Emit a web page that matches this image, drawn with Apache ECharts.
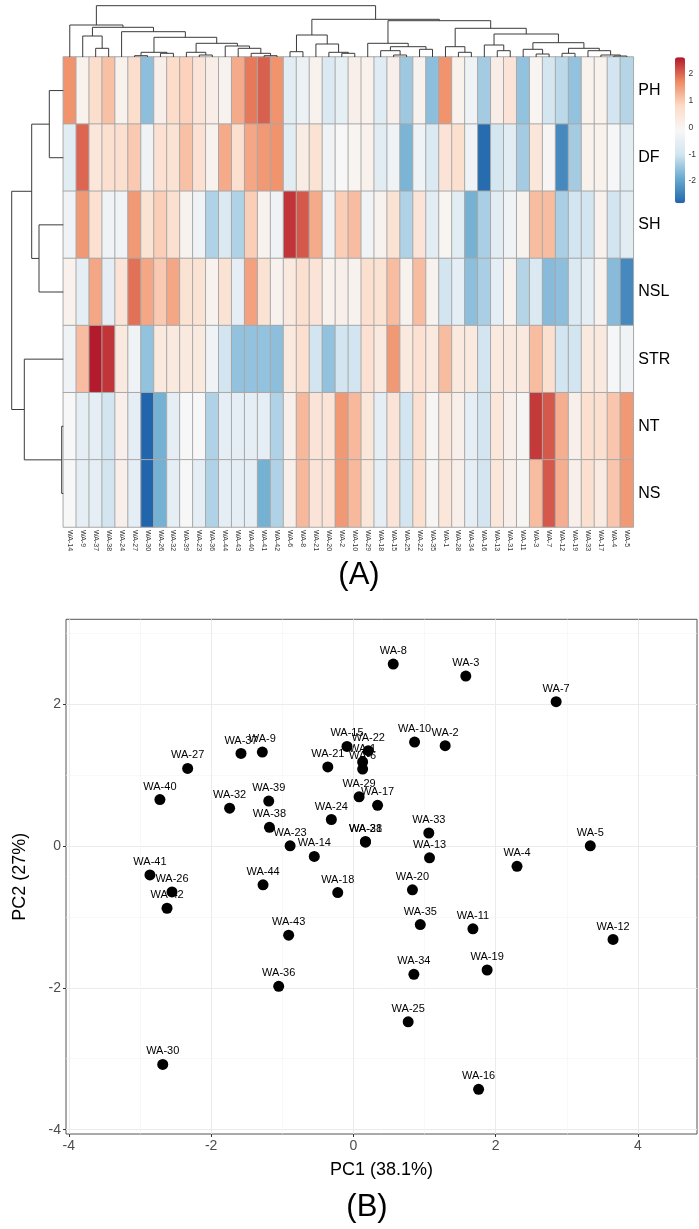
<!DOCTYPE html>
<html>
<head>
<meta charset="utf-8">
<script src="https://cdn.jsdelivr.net/npm/echarts@6/dist/echarts.min.js"></script>
<style>
html, body { margin: 0; padding: 0; background: #fff; }
#chart { width: 699px; height: 1229px; }
</style>
</head>
<body>
<div id="chart"></div>
<script>
// heatmap columns (clustered order) and rows
var colLabels = ['WA-14', 'WA-9', 'WA-37', 'WA-38', 'WA-24', 'WA-27', 'WA-30', 'WA-26', 'WA-32', 'WA-39', 'WA-23',
    'WA-36', 'WA-44', 'WA-43', 'WA-40', 'WA-41', 'WA-42', 'WA-6', 'WA-8', 'WA-21', 'WA-20', 'WA-2', 'WA-10',
    'WA-29', 'WA-18', 'WA-15', 'WA-25', 'WA-22', 'WA-35', 'WA-1', 'WA-28', 'WA-34', 'WA-16', 'WA-13', 'WA-31',
    'WA-11', 'WA-3', 'WA-7', 'WA-12', 'WA-19', 'WA-33', 'WA-17', 'WA-4', 'WA-5'];
var rowLabels = ['PH', 'DF', 'SH', 'NSL', 'STR', 'NT', 'NS'];

var PH = [1.6, 0.1, 0.7, 1.1, 0.1, 0.7, -1.6, 0.15, 0.75, 0.9, 0.5, 0.2, 0.05, 1.35, 1.85, 2.05, 1.6, -0.6, -0.4, 0.05, -0.8, -0.5,
    0.15, 0.1, -0.65, 0.15, -1.45, 0.05, -1.6, 1.6, 0.1, -0.3, -1.4, 0.2, 0.5, -1.55, 0, -0.95, -1.2, -1.55, 0.1, 0.1, -1.0, -1.25];
var DF = [-0.6, 2.0, 0.45, 0.65, 0.65, 1.0, -0.3, 0.6, 0.55, 1.1, 0.6, 0.05, 1.35, 0.65, 1.4, 1.55, 1.6, -0.6, 0.25, 0.55, -0.3, -0.1,
    0, 0.1, -0.6, -0.3, -1.75, -0.3, -0.8, 0.5, 0.65, -0.3, -2.75, -0.95, -0.6, -1.4, 0.45, -0.05, -2.35, -1.4, 0.1, 0.1, -0.15, -0.6];
var SH = [-0.3, 1.55, 0.6, -0.3, -0.3, 1.55, 0.55, 0.95, 0.65, 0.05, -0.3, -1.3, -0.8, -1.3, 0.95, 0.05, -0.3, 2.4, 2.1, 1.35, -0.3, 0.95,
    1.15, -0.3, 0.05, 0.55, -1.3, 0.5, -0.6, 0, -0.6, -1.8, -1.35, -0.6, -0.3, 0.05, 1.15, 1.15, -1.35, -1.0, -1.0, 0.05, -1.0, -0.6];
var NSL = [0.1, -0.55, 1.4, -0.55, 0.5, 1.9, 1.4, 1.0, 1.4, 0.55, 0.55, 0.05, 0.55, -0.55, 1.45, 0.55, 0.05, 0.35, 0.65, 0.5, 0.1, 0.15,
    0.05, 0.65, 0.55, 1.15, 0.05, 1.15, 0.05, -1.0, -0.55, -1.6, -1.35, -0.55, 0.05, -1.25, -0.8, -1.65, -1.6, -0.8, -0.55, 0.05, -1.65, -2.35];
var STR = [-0.3, 1.15, 2.6, 2.4, 0.35, -0.3, -1.55, 0.35, 0.35, 0.35, 0.35, -0.3, -1.0, -1.55, -1.55, -1.55, -1.6, 0.35, 0.65, -1.0, -1.55, -1.0,
    -1.0, 0.6, 0.35, 1.55, 0.35, 0.6, 0.35, 1.15, 0.35, 0.35, -1.0, 0.35, 0.35, 0.35, 1.15, 0.65, -1.0, -1.0, 0.35, 0.35, -0.15, -0.3];
var NT = [-0.1, -0.55, -0.55, -1.0, 0.15, -0.55, -2.85, -1.8, -0.55, -0.1, -0.1, -1.3, -0.55, -0.55, -0.55, -0.55, -1.3, 0.15, 1.2, 0.5, 0.5, 1.55,
    1.2, 0.45, -0.55, 0.5, -1.0, 0.65, -0.05, 0.45, 0.15, -0.55, -1.0, 0.45, 0.15, -0.05, 2.35, 2.1, 1.3, 0.15, 0.65, 0.65, 1.05, 1.55];
var NS = [-0.1, -0.55, -0.55, -1.0, 0.15, -0.55, -2.85, -1.8, -0.55, -0.1, -0.55, -1.3, -0.55, -0.55, -0.55, -1.8, -1.3, 0.15, 1.2, 0.5, 0.5, 1.55,
    1.2, 0.45, -0.55, 0.5, -1.0, 0.65, -0.05, 0.45, 0.15, -0.55, -1.0, 0.45, 0.15, -0.05, 1.15, 2.1, 1.3, 0.15, 0.65, 0.3, 1.05, 1.55];
var legendTicks = [-2, -1, 0, 1, 2];

// hclust-style merges: negative = leaf (1-based), positive = earlier merge; third = height
var colMerge = [
    [-3, -4, 8.7], [-2, 1, 21], [-6, -7, 1.3], [-8, -9, 3.7], [3, 4, 4.7], [-11, -12, 2], [-10, 6, 4.7],
    [-16, -17, 1.3], [-15, 8, 3.7], [-14, 9, 8.7], [-13, 10, 11], [7, 11, 13.7], [5, 12, 19.7], [-5, 13, 25.3],
    [2, 14, 29.7], [-1, 15, 32], [-18, -19, 5.3], [-22, -23, 3.7], [-21, 18, 4.7], [-20, 19, 13], [17, 20, 22],
    [-26, -27, 2], [-25, 22, 6.3], [-28, -29, 7.7], [23, 24, 10.3], [-24, 25, 13.7], [-31, -32, 4.7], [-30, 27, 10.3],
    [-34, -35, 6.3], [-33, 29, 12], [-37, -38, 3], [-36, 31, 7.7], [-39, -40, 3.7], [-43, -44, 1], [-42, 34, 2],
    [-41, 35, 6.3], [33, 36, 8.7], [32, 37, 14.3], [30, 38, 23], [28, 39, 28.7], [26, 40, 36.3], [21, 41, 37.7],
    [16, 42, 51.3]
];
var rowMerge = [[-1, -2, 14], [-3, -4, 24.3], [1, 2, 31.6], [-6, -7, 1.6], [-5, 4, 39], [3, 5, 51.6]];

// PCA scores
var pcaNames = ['WA-1', 'WA-2', 'WA-3', 'WA-4', 'WA-5', 'WA-6', 'WA-7', 'WA-8', 'WA-9', 'WA-10', 'WA-11',
    'WA-12', 'WA-13', 'WA-14', 'WA-15', 'WA-16', 'WA-17', 'WA-18', 'WA-19', 'WA-20', 'WA-21', 'WA-22',
    'WA-23', 'WA-24', 'WA-25', 'WA-26', 'WA-27', 'WA-28', 'WA-29', 'WA-30', 'WA-31', 'WA-32', 'WA-33',
    'WA-34', 'WA-35', 'WA-36', 'WA-37', 'WA-38', 'WA-39', 'WA-40', 'WA-41', 'WA-42', 'WA-43', 'WA-44'];
var pc1 = [0.13, 1.29, 1.58, 2.30, 3.33, 0.13, 2.85, 0.56, -1.28, 0.86, 1.68,
    3.65, 1.07, -0.55, -0.09, 1.76, 0.34, -0.22, 1.88, 0.83, -0.36, 0.21,
    -0.89, -0.31, 0.77, -2.55, -2.33, 0.17, 0.08, -2.68, 0.17, -1.74, 1.06,
    0.85, 0.94, -1.05, -1.58, -1.18, -1.19, -2.72, -2.86, -2.62, -0.91, -1.27];
var pc2 = [1.18, 1.41, 2.39, -0.29, 0.0, 1.08, 2.03, 2.56, 1.32, 1.46, -1.17,
    -1.32, -0.17, -0.15, 1.40, -3.43, 0.57, -0.66, -1.75, -0.62, 1.11, 1.34,
    0.0, 0.37, -2.48, -0.65, 1.09, 0.06, 0.69, -3.08, 0.05, 0.53, 0.18,
    -1.81, -1.11, -1.98, 1.30, 0.26, 0.63, 0.65, -0.41, -0.88, -1.26, -0.55];

var heatRows = [PH, DF, SH, NSL, STR, NT, NS];
var heatData = [];
heatRows.forEach(function (row, r) {
    row.forEach(function (v, c) {
        heatData.push([c, r, v]);
    });
});

function dendroSegments(merge) {
    var pos = [], hgt = [], out = [];
    function node(k) {
        return k < 0 ? [-k - 0.5, 0] : [pos[k - 1], hgt[k - 1]];
    }
    merge.forEach(function (m, i) {
        var a = node(m[0]), b = node(m[1]);
        pos[i] = (a[0] + b[0]) / 2;
        hgt[i] = m[2];
        out.push([a[0], a[1], b[0], b[1], m[2]]);
    });
    return out;
}

function uShape(flip) {
    return function (params, api) {
        var pa = api.value(0), ha = api.value(1), pb = api.value(2), hb = api.value(3), h = api.value(4);
        var pts = [[pa, ha], [pa, h], [pb, h], [pb, hb]].map(function (p) {
            return api.coord(flip ? [p[1], p[0]] : p);
        });
        return {
            type: 'polyline',
            shape: { points: pts },
            style: { stroke: '#3a3a3a', lineWidth: 1, fill: null }
        };
    };
}

var scatterData = pcaNames.map(function (n, i) {
    return { name: n, value: [pc1[i], pc2[i]] };
});

var font = 'Liberation Sans, Arial, sans-serif';
var hidden = { show: false };
var noLine = { show: false, onZero: false };

var chart = echarts.init(document.getElementById('chart'));
chart.setOption({
    animation: false,
    backgroundColor: '#fff',
    textStyle: { fontFamily: font },
    title: [
        { text: '(A)', left: 354, textAlign: 'center', top: 555, textStyle: { fontSize: 31, fontWeight: 'normal', color: '#000' } },
        { text: '(B)', left: 362, textAlign: 'center', top: 1187, textStyle: { fontSize: 31, fontWeight: 'normal', color: '#000' } }
    ],
    grid: [
        { left: 63.3, top: 57, width: 570, height: 470 },
        { left: 63.3, top: 5.7, width: 570, height: 51.3 },
        { left: 11.7, top: 57, width: 51.6, height: 470 },
        { left: 66, top: 619.3, width: 631, height: 514.7, show: true, borderColor: '#555', borderWidth: 1, backgroundColor: 'transparent' },
        { left: 684, top: 57.3, width: 1, height: 146 }
    ],
    xAxis: [
        {
            type: 'category', gridIndex: 0, data: colLabels, position: 'bottom',
            axisLine: noLine, axisTick: hidden, splitLine: hidden,
            axisLabel: { interval: 0, rotate: -90, fontSize: 7, color: '#333', margin: 3 }
        },
        { type: 'value', gridIndex: 1, min: 0, max: 44, show: false },
        { type: 'value', gridIndex: 2, min: 0, max: 51.6, inverse: true, show: false },
        {
            type: 'value', gridIndex: 3, min: -4.04, max: 4.83,
            name: 'PC1 (38.1%)', nameLocation: 'middle', nameGap: 27,
            nameTextStyle: { fontSize: 18, color: '#000' },
            axisLine: noLine,
            axisTick: { show: true, length: 3, lineStyle: { color: '#333' }, customValues: [-4, -2, 0, 2, 4] },
            axisLabel: { fontSize: 14, color: '#4d4d4d', margin: 5, customValues: [-4, -2, 0, 2, 4] },
            splitLine: { show: true, lineStyle: { color: '#ebebeb', width: 1 } }
        },
        {
            type: 'value', gridIndex: 3, min: -4.04, max: 4.83,
            axisLine: noLine, axisLabel: hidden,
            axisTick: { show: false, customValues: [-3, -1, 1, 3] },
            splitLine: { show: true, lineStyle: { color: '#f3f3f3', width: 0.6 } }
        },
        { type: 'value', gridIndex: 4, min: 0, max: 1, show: false }
    ],
    yAxis: [
        {
            type: 'category', gridIndex: 0, data: rowLabels, inverse: true, position: 'right',
            axisLine: noLine, axisTick: hidden, splitLine: hidden,
            axisLabel: { fontSize: 16, color: '#000', margin: 5 }
        },
        { type: 'value', gridIndex: 1, min: 0, max: 51.3, show: false },
        { type: 'value', gridIndex: 2, min: 0, max: 7, inverse: true, show: false },
        {
            type: 'value', gridIndex: 3, min: -4.06, max: 3.19,
            name: 'PC2 (27%)', nameLocation: 'middle', nameGap: 37, nameRotate: 90,
            nameTextStyle: { fontSize: 18, color: '#000' },
            axisLine: noLine,
            axisTick: { show: true, length: 3, lineStyle: { color: '#333' }, customValues: [-4, -2, 0, 2] },
            axisLabel: { fontSize: 14, color: '#4d4d4d', margin: 5, customValues: [-4, -2, 0, 2] },
            splitLine: { show: true, lineStyle: { color: '#ebebeb', width: 1 } }
        },
        {
            type: 'value', gridIndex: 3, min: -4.06, max: 3.19,
            axisLine: noLine, axisLabel: hidden,
            axisTick: { show: false, customValues: [-3, -1, 1, 3] },
            splitLine: { show: true, lineStyle: { color: '#f3f3f3', width: 0.6 } }
        },
        {
            type: 'value', gridIndex: 4, min: -2.83, max: 2.62, position: 'right',
            axisLine: noLine, axisTick: hidden, splitLine: hidden,
            axisLabel: { fontSize: 8.5, color: '#333', margin: 4, customValues: legendTicks }
        }
    ],
    visualMap: {
        type: 'continuous', seriesIndex: 0, dimension: 2,
        min: -2.83, max: 2.62, calculable: false,
        left: 675, top: 57.3, itemWidth: 10, itemHeight: 146,
        padding: 0, text: null,
        inRange: { color: ['#2166AC', '#67A9CF', '#D1E5F0', '#F7F7F7', '#FDDBC7', '#EF8A62', '#B2182B'] }
    },
    series: [
        {
            type: 'heatmap', xAxisIndex: 0, yAxisIndex: 0, data: heatData,
            itemStyle: { borderColor: '#a8a8a8', borderWidth: 1 },
            emphasis: { disabled: true }
        },
        {
            type: 'custom', xAxisIndex: 1, yAxisIndex: 1, clip: false, silent: true,
            renderItem: uShape(false), data: dendroSegments(colMerge)
        },
        {
            type: 'custom', xAxisIndex: 2, yAxisIndex: 2, clip: false, silent: true,
            renderItem: uShape(true), data: dendroSegments(rowMerge)
        },
        {
            type: 'scatter', xAxisIndex: 3, yAxisIndex: 3, data: scatterData,
            symbolSize: 11, itemStyle: { color: '#000', opacity: 1 },
            label: {
                show: true, position: 'top', distance: 2, formatter: '{b}',
                fontSize: 11, color: '#000'
            },
            emphasis: { disabled: true }
        }
    ]
});
</script>
</body>
</html>
